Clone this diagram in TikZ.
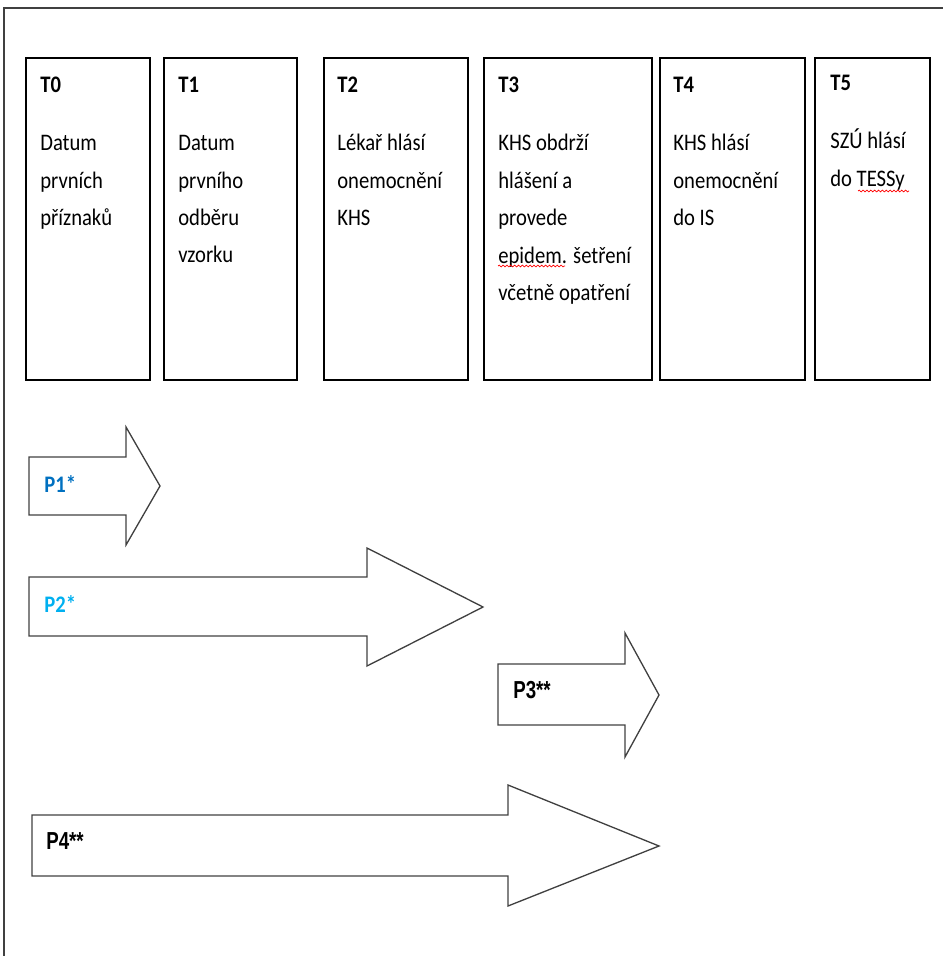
\documentclass[tikz,border=0pt]{standalone}
\usepackage{fontspec}
\setmainfont{Carlito}[FakeStretch=0.87]
\newfontfamily\narrowsans{Liberation Sans}[FakeStretch=0.76]
\usetikzlibrary{decorations.pathmorphing}
\definecolor{pblue}{HTML}{0070C0}
\definecolor{plightblue}{HTML}{00B0F0}
\definecolor{linegray}{HTML}{404040}
\tikzset{
  tbox/.style={draw, line width=0.9pt, anchor=north west, inner sep=0pt, minimum height=322*0.02cm},
  ttext/.style={anchor=north west, align=left, inner sep=0pt},
  parrow/.style={draw=linegray, line width=0.75pt, line join=miter},
  plabel/.style={anchor=base west, inner sep=0pt, font=\bfseries\fontsize{13.5}{16}\selectfont},
  nlabel/.style={plabel, font=\narrowsans\bfseries\fontsize{14}{16}\selectfont},
  spellerr/.style={red, line width=0.4pt, decorate, decoration={snake, amplitude=0.5pt, segment length=2.2pt}},
}
\begin{document}
\begin{tikzpicture}[x=0.02cm, y=-0.02cm, font=\fontsize{13.5}{21.3}\selectfont]
  \useasboundingbox (0,0) rectangle (943,956);
  \draw[linegray, line width=0.8pt] (4,956) -- (4,8) -- (943,8); % frame, open at right and bottom
  % time points
  \node[tbox, minimum width=124*0.02cm] (T0) at (25,57) {};
  \node[tbox, minimum width=133*0.02cm] (T1) at (163,57) {};
  \node[tbox, minimum width=144*0.02cm] (T2) at (323,57) {};
  \node[tbox, minimum width=168*0.02cm] (T3) at (483,57) {};
  \node[tbox, minimum width=145*0.02cm] (T4) at (659,57) {};
  \node[tbox, minimum width=115*0.02cm] (T5) at (814,57) {};
  \node[ttext] (t0) at ([shift={(15,20)}]T0.north west) {\textbf{T0}\\[0.41cm]Datum\\prvních\\příznaků};
  \node[ttext] (t1) at ([shift={(15,20)}]T1.north west) {\textbf{T1}\\[0.41cm]Datum\\prvního\\odběru\\vzorku};
  \node[ttext] (t2) at ([shift={(14,20)}]T2.north west) {\textbf{T2}\\[0.41cm]Lékař hlásí\\onemocnění\\KHS};
  \node[ttext] (t3) at ([shift={(15,20)}]T3.north west) {\textbf{T3}\\[0.41cm]KHS obdrží\\hlášení a\\provede\\epidem. šetření\\včetně opatření};
  \node[ttext] (t4) at ([shift={(14,20)}]T4.north west) {\textbf{T4}\\[0.41cm]KHS hlásí\\onemocnění\\do IS};
  \node[ttext] (t5) at ([shift={(16,18)}]T5.north west) {\textbf{T5}\\[0.41cm]SZÚ hlásí\\do TESSy};
  % spelling marks
  \draw[spellerr] (498,266) -- (565,266);
  \draw[spellerr] (858,191) -- (909,191);
  % periods
  \draw[parrow] (29,457) -- (126,457) -- (126,427) -- (160,486) -- (126,545) -- (126,515) -- (29,515) -- cycle;
  \draw[parrow] (29,577) -- (367,577) -- (367,548) -- (483,607) -- (367,666) -- (367,636) -- (29,636) -- cycle;
  \draw[parrow] (498,664) -- (625,664) -- (625,633) -- (659,695) -- (625,757) -- (625,725) -- (498,725) -- cycle;
  \draw[parrow] (32,815) -- (508,815) -- (508,785) -- (659,846) -- (508,906) -- (508,876) -- (32,876) -- cycle;
  \node[plabel, text=pblue] (p1) at (44,492) {P1*};
  \node[plabel, text=plightblue] (p2) at (44,612) {P2*};
  \node[nlabel] (p3) at (513,698) {P3**};
  \node[nlabel] (p4) at (46,849) {P4**};
\end{tikzpicture}
\end{document}
